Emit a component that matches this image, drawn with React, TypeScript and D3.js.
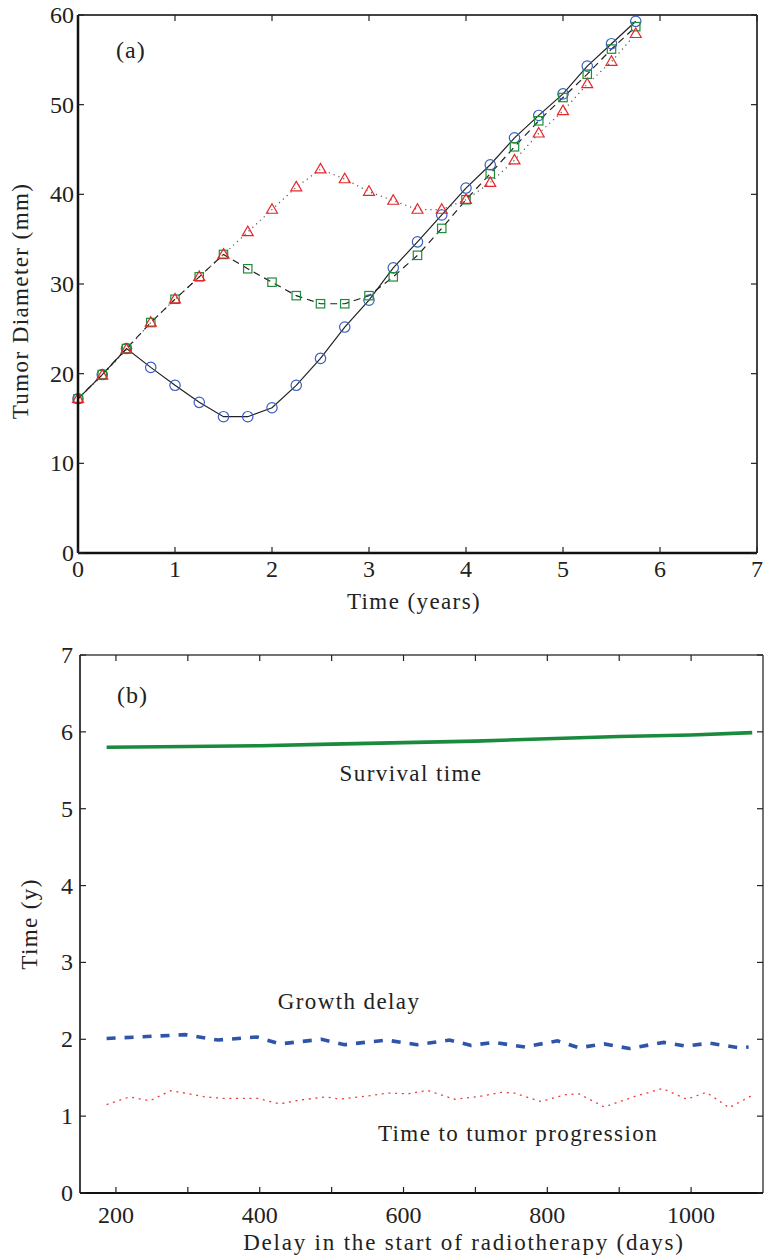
import React from "react";
import * as d3 from "d3";

// ---------- Panel (a) data ----------
const timesA = [0, 0.25, 0.5, 0.75, 1, 1.25, 1.5, 1.75, 2, 2.25, 2.5, 2.75, 3, 3.25, 3.5, 3.75, 4, 4.25, 4.5, 4.75, 5, 5.25, 5.5, 5.75];
const circleSeries = [17.2, 19.9, 22.8, 20.7, 18.7, 16.8, 15.2, 15.2, 16.2, 18.7, 21.7, 25.2, 28.2, 31.8, 34.7, 37.7, 40.7, 43.3, 46.3, 48.8, 51.2, 54.3, 56.8, 59.3];
const squareSeries = [17.2, 19.9, 22.8, 25.7, 28.3, 30.8, 33.3, 31.7, 30.2, 28.7, 27.8, 27.8, 28.7, 30.8, 33.2, 36.2, 39.4, 42.3, 45.3, 48.2, 50.8, 53.4, 56.2, 58.7];
const triangleSeries = [17.2, 19.8, 22.7, 25.7, 28.3, 30.8, 33.3, 35.8, 38.3, 40.8, 42.8, 41.7, 40.3, 39.3, 38.3, 38.3, 39.4, 41.3, 43.8, 46.8, 49.3, 52.3, 54.8, 57.9];
const xTicksA = [0, 1, 2, 3, 4, 5, 6, 7];
const yTicksA = [0, 10, 20, 30, 40, 50, 60];

// ---------- Panel (b) data ----------
const survivalDays = [187, 300, 400, 500, 600, 700, 800, 900, 1000, 1085];
const survivalTime = [5.80, 5.81, 5.82, 5.84, 5.86, 5.88, 5.91, 5.94, 5.96, 5.99];
const growthDays = [187, 296, 342, 396, 428, 486, 518, 576, 619, 664, 694, 725, 769, 814, 844, 879, 914, 962, 993, 1025, 1067, 1080];
const growthDelay = [2.01, 2.06, 1.99, 2.03, 1.94, 2.0, 1.93, 1.99, 1.93, 1.99, 1.92, 1.96, 1.9, 1.98, 1.89, 1.94, 1.88, 1.96, 1.91, 1.95, 1.89, 1.9];
const progDays = [187, 219, 247, 276, 296, 324, 351, 397, 428, 456, 493, 511, 548, 578, 606, 633, 671, 708, 736, 754, 791, 826, 844, 879, 923, 960, 994, 1021, 1053, 1085];
const progTime = [1.15, 1.25, 1.2, 1.33, 1.3, 1.25, 1.23, 1.23, 1.16, 1.21, 1.25, 1.22, 1.26, 1.3, 1.29, 1.335, 1.22, 1.26, 1.31, 1.3, 1.19, 1.28, 1.29, 1.12, 1.26, 1.36, 1.22, 1.31, 1.11, 1.27];
const xTicksB = [200, 300, 400, 500, 600, 700, 800, 900, 1000];
const xLabelsB = [200, 400, 600, 800, 1000];
const yTicksB = [0, 1, 2, 3, 4, 5, 6, 7];

const FONT = "Liberation Serif, serif";
const tx: React.CSSProperties = { fontFamily: FONT };

export default function App() {
  // Panel (a) scales
  const xA = d3.scaleLinear().domain([0, 7]).range([78, 757]);
  const yA = d3.scaleLinear().domain([0, 60]).range([553, 15]);
  const lineA = d3
    .line<[number, number]>()
    .x((d) => xA(d[0]))
    .y((d) => yA(d[1]));
  const pts = (vals: number[]) => timesA.map((t, i) => [t, vals[i]] as [number, number]);

  // Panel (b) scales
  const xB = d3.scaleLinear().domain([150, 1100]).range([80, 763]);
  const yB = d3.scaleLinear().domain([0, 7]).range([1193, 655]);
  const lineB = d3
    .line<[number, number]>()
    .x((d) => xB(d[0]))
    .y((d) => yB(d[1]))
    .curve(d3.curveLinear);
  const zip = (a: number[], b: number[]) => a.map((v, i) => [v, b[i]] as [number, number]);

  const tri = d3.symbol().type(d3.symbolTriangle).size(52)();

  const [ax0, ax1] = xA.range();
  const [ay0, ay1] = yA.range();
  const [bx0, bx1] = xB.range();
  const [by0, by1] = yB.range();

  return (
    <svg
      width={764}
      height={1257}
      style={{ position: "absolute", left: 0, top: 0, background: "#fff" }}
    >
      <rect x={0} y={0} width={764} height={1257} fill="#fff" />
      {/* ================= Panel (a) ================= */}
      <defs>
        <clipPath id="clipA">
          <rect x={ax0} y={ay1} width={ax1 - ax0} height={ay0 - ay1} />
        </clipPath>
      </defs>
      <g clipPath="url(#clipA)">
        <path d={lineA(pts(triangleSeries)) || ""} fill="none" stroke="#555" strokeWidth={1.2} strokeDasharray="1.2,4" />
        <path d={lineA(pts(squareSeries)) || ""} fill="none" stroke="#222" strokeWidth={1.2} strokeDasharray="7,5" />
        <path d={lineA(pts(circleSeries)) || ""} fill="none" stroke="#222" strokeWidth={1.2} />
      </g>
      {timesA.map((t, i) => (
        <circle key={"c" + i} cx={xA(t)} cy={yA(circleSeries[i])} r={5.2} fill="none" stroke="#3a5fc0" strokeWidth={1.2} />
      ))}
      {timesA.map((t, i) => (
        <rect key={"s" + i} x={xA(t) - 4.2} y={yA(squareSeries[i]) - 4.2} width={8.4} height={8.4} fill="none" stroke="#1e8c3a" strokeWidth={1.2} />
      ))}
      {timesA.map((t, i) => (
        <path key={"t" + i} d={tri || ""} transform={`translate(${xA(t)},${yA(triangleSeries[i]) + 0.5})`} fill="none" stroke="#e8262a" strokeWidth={1.2} />
      ))}

      {/* axes box a */}
      <line x1={ax0} x2={ax1} y1={ay1} y2={ay1} stroke="#444" strokeWidth={2} />
      <line x1={ax1} x2={ax1} y1={ay1} y2={ay0} stroke="#444" strokeWidth={2} />
      <line x1={ax0} x2={ax1} y1={ay0} y2={ay0} stroke="#111" strokeWidth={2.5} />
      <line x1={ax0} x2={ax0} y1={ay1} y2={ay0} stroke="#111" strokeWidth={2.5} />
      {xTicksA.map((t) => (
        <g key={"xa" + t}>
          <line x1={xA(t)} x2={xA(t)} y1={ay0} y2={ay0 - 6} stroke="#222" strokeWidth={1.2} />
          <line x1={xA(t)} x2={xA(t)} y1={ay1} y2={ay1 + 6} stroke="#222" strokeWidth={1.2} />
          <text style={tx} x={xA(t)} y={ay0 + 24} textAnchor="middle" fontSize={24} fill="#222">
            {t}
          </text>
        </g>
      ))}
      {yTicksA.map((v) => (
        <g key={"ya" + v}>
          <line x1={ax0} x2={ax0 + 6} y1={yA(v)} y2={yA(v)} stroke="#222" strokeWidth={1.2} />
          <line x1={ax1} x2={ax1 - 6} y1={yA(v)} y2={yA(v)} stroke="#222" strokeWidth={1.2} />
          <text style={tx} x={ax0 - 4} y={yA(v) + 8} textAnchor="end" fontSize={24} fill="#222">
            {v}
          </text>
        </g>
      ))}
      <text style={tx} x={414} y={609} textAnchor="middle" fontSize={23} fill="#222" letterSpacing={1.4}>
        Time (years)
      </text>
      <text style={tx} transform={`translate(28,301) rotate(-90)`} textAnchor="middle" fontSize={23} fill="#222" letterSpacing={1.4}>
        Tumor Diameter (mm)
      </text>
      <text style={tx} x={116} y={58} fontSize={24} fill="#222" letterSpacing={1}>
        (a)
      </text>

      {/* ================= Panel (b) ================= */}
      <path d={lineB(zip(progDays, progTime)) || ""} fill="none" stroke="#ee3a3a" strokeWidth={1.3} strokeDasharray="2,4.7" />
      <path d={lineB(zip(growthDays, growthDelay)) || ""} fill="none" stroke="#2f55aa" strokeWidth={3.6} strokeDasharray="9,9" />
      <path d={lineB(zip(survivalDays, survivalTime)) || ""} fill="none" stroke="#1a8a3c" strokeWidth={3.6} />

      <line x1={bx0} x2={bx1} y1={by1} y2={by1} stroke="#444" strokeWidth={1.5} />
      <line x1={bx1} x2={bx1} y1={by1} y2={by0} stroke="#444" strokeWidth={1.5} />
      <line x1={bx0} x2={bx1} y1={by0} y2={by0} stroke="#111" strokeWidth={2} />
      <line x1={bx0} x2={bx0} y1={by1} y2={by0} stroke="#111" strokeWidth={1.6} />
      {xTicksB.map((t) => (
        <g key={"xb" + t}>
          <line x1={xB(t)} x2={xB(t)} y1={by0} y2={by0 - 6} stroke="#222" strokeWidth={1.2} />
          <line x1={xB(t)} x2={xB(t)} y1={by1} y2={by1 + 6} stroke="#222" strokeWidth={1.2} />
        </g>
      ))}
      {xLabelsB.map((t) => (
        <text style={tx} key={"xl" + t} x={xB(t)} y={by0 + 30} textAnchor="middle" fontSize={24} fill="#222">
          {t}
        </text>
      ))}
      {yTicksB.map((v) => (
        <g key={"yb" + v}>
          <line x1={bx0} x2={bx0 + 6} y1={yB(v)} y2={yB(v)} stroke="#222" strokeWidth={1.2} />
          <line x1={bx1} x2={bx1 - 6} y1={yB(v)} y2={yB(v)} stroke="#222" strokeWidth={1.2} />
          <text style={tx} x={bx0 - 7} y={yB(v) + 8} textAnchor="end" fontSize={24} fill="#222">
            {v}
          </text>
        </g>
      ))}
      <text style={tx} x={464} y={1250} textAnchor="middle" fontSize={23} fill="#222" letterSpacing={1.8}>
        Delay in the start of radiotherapy (days)
      </text>
      <text style={tx} transform={`translate(37,924) rotate(-90)`} textAnchor="middle" fontSize={23} fill="#222" letterSpacing={1.4}>
        Time (y)
      </text>
      <text style={tx} x={117} y={703} fontSize={24} fill="#222" letterSpacing={1}>
        (b)
      </text>
      <text style={tx} x={411} y={781} textAnchor="middle" fontSize={23} fill="#222" letterSpacing={1.4}>
        Survival time
      </text>
      <text style={tx} x={349} y={1009} textAnchor="middle" fontSize={23} fill="#222" letterSpacing={1.4}>
        Growth delay
      </text>
      <text style={tx} x={518} y={1141} textAnchor="middle" fontSize={23} fill="#222" letterSpacing={1.4}>
        Time to tumor progression
      </text>
    </svg>
  );
}
